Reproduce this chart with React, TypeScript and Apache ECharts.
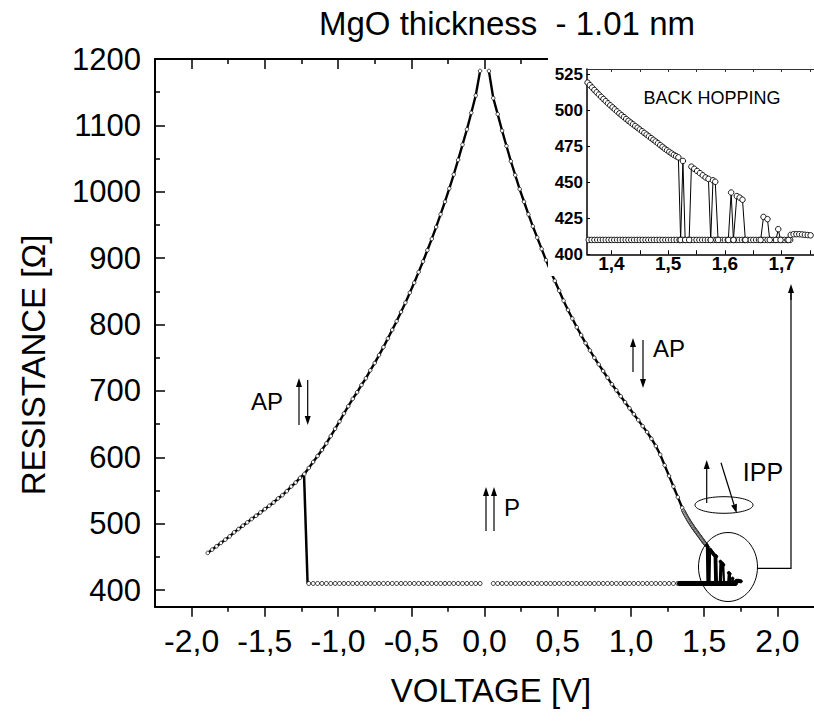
import React, { useEffect, useRef } from "react";
import * as echarts from "echarts";

// ---------- DATA ----------
// AP branch, negative bias
const leftV = [-1.89, -1.86, -1.83, -1.80, -1.77, -1.74, -1.71, -1.68, -1.65, -1.62, -1.59, -1.56, -1.53, -1.50,
  -1.47, -1.44, -1.41, -1.38, -1.35, -1.32, -1.29, -1.26, -1.23, -1.20, -1.17, -1.14, -1.11, -1.08, -1.05, -1.02,
  -0.99, -0.96, -0.93, -0.90, -0.87, -0.84, -0.81, -0.78, -0.75, -0.72, -0.69, -0.66, -0.63, -0.60, -0.57, -0.54,
  -0.51, -0.48, -0.45, -0.42, -0.39, -0.36, -0.33, -0.30, -0.27, -0.24, -0.21, -0.18, -0.15, -0.12, -0.09, -0.06, -0.03];
const leftR = [456, 461, 466, 471, 476, 481, 487, 492, 497, 502, 507, 512, 517, 522,
  527, 532, 538, 543, 549, 556, 562, 569, 575, 584, 593, 602, 611, 621, 632, 643,
  654, 666, 677, 688, 698, 709, 719, 731, 742, 754, 766, 779, 792, 805, 819, 833,
  848, 863, 879, 895, 912, 929, 947, 966, 985, 1005, 1026, 1048, 1071, 1094, 1119, 1145, 1182];

// AP -> P switching at negative bias
const jumpV = [-1.232, -1.208];
const jumpR = [572, 410];

// P state, negative bias
const baseLeftV = [-1.20, -1.17, -1.14, -1.11, -1.08, -1.05, -1.02, -0.99, -0.96, -0.93, -0.90, -0.87, -0.84, -0.81,
  -0.78, -0.75, -0.72, -0.69, -0.66, -0.63, -0.60, -0.57, -0.54, -0.51, -0.48, -0.45, -0.42, -0.39, -0.36, -0.33,
  -0.30, -0.27, -0.24, -0.21, -0.18, -0.15, -0.12, -0.09, -0.06, -0.03];
const baseLeftR = [410, 410, 410, 410, 410, 410, 410, 410, 410, 410, 410, 410, 410, 410,
  410, 410, 410, 410, 410, 410, 410, 410, 410, 410, 410, 410, 410, 410, 410, 410,
  410, 410, 410, 410, 410, 410, 410, 410, 410, 410];

// P state, positive bias (coarse part)
const baseRightV = [0.06, 0.09, 0.12, 0.15, 0.18, 0.21, 0.24, 0.27, 0.30, 0.33, 0.36, 0.39, 0.42, 0.45, 0.48,
  0.51, 0.54, 0.57, 0.60, 0.63, 0.66, 0.69, 0.72, 0.75, 0.78, 0.81, 0.84, 0.87, 0.90, 0.93, 0.96, 0.99,
  1.02, 1.05, 1.08, 1.11, 1.14, 1.17, 1.20, 1.23, 1.26, 1.29, 1.32];
const baseRightR = [410, 410, 410, 410, 410, 410, 410, 410, 410, 410, 410, 410, 410, 410, 410,
  410, 410, 410, 410, 410, 410, 410, 410, 410, 410, 410, 410, 410, 410, 410, 410, 410,
  410, 410, 410, 410, 410, 410, 410, 410, 410, 410, 410];

// AP branch, positive bias
const rightV = [0.03, 0.06, 0.09, 0.12, 0.15, 0.18, 0.21, 0.24, 0.27, 0.30, 0.33, 0.36, 0.39, 0.42, 0.45,
  0.48, 0.51, 0.54, 0.57, 0.60, 0.63, 0.66, 0.69, 0.72, 0.75, 0.78, 0.81, 0.84, 0.87, 0.90, 0.93, 0.96,
  0.99, 1.02, 1.05, 1.08, 1.11, 1.14, 1.17, 1.20, 1.23, 1.26, 1.29, 1.32, 1.35,
  1.358, 1.362, 1.366, 1.370, 1.374, 1.378, 1.382, 1.386, 1.390, 1.394, 1.398, 1.402, 1.406, 1.410, 1.414,
  1.418, 1.422, 1.426, 1.430, 1.434, 1.438, 1.442, 1.446, 1.450, 1.454, 1.458, 1.462, 1.466, 1.470, 1.474,
  1.478, 1.482, 1.486, 1.490, 1.494, 1.498, 1.502, 1.506, 1.510, 1.514];
const rightR = [1182, 1141, 1117, 1092, 1069, 1046, 1025, 1004, 985, 966, 948, 931, 914, 897, 881,
  866, 851, 836, 822, 809, 796, 784, 772, 761, 750, 740, 730, 720, 710, 701, 692, 683,
  674, 665, 656, 647, 638, 628, 617, 604, 588, 572, 556, 540, 524,
  519.5, 517.8, 516.1, 514.4, 512.8, 511.2, 509.6, 508.1, 506.6, 505.1, 503.7, 502.3, 500.9, 499.5, 498.1,
  496.8, 495.5, 494.2, 492.9, 491.7, 490.5, 489.3, 488.1, 486.9, 485.7, 484.5, 483.3, 482.1, 480.9, 479.7,
  478.5, 477.3, 476.0, 474.8, 473.5, 472.4, 471.3, 470.2, 469.2, 468.3];

// P state in the back-hopping region (dense sweep)
const pDenseV = [1.330, 1.335, 1.340, 1.345, 1.350, 1.355, 1.360, 1.365, 1.370, 1.375, 1.380, 1.385, 1.390,
  1.395, 1.400, 1.405, 1.410, 1.415, 1.420, 1.425, 1.430, 1.435, 1.440, 1.445, 1.450, 1.455, 1.460, 1.465,
  1.470, 1.475, 1.480, 1.485, 1.490, 1.495, 1.500, 1.505, 1.510, 1.515, 1.520, 1.525, 1.530, 1.535, 1.540,
  1.545, 1.550, 1.555, 1.560, 1.565, 1.570, 1.575, 1.580, 1.585, 1.590, 1.595, 1.600, 1.605, 1.610, 1.615,
  1.620, 1.625, 1.630, 1.635, 1.640, 1.645, 1.650, 1.655, 1.660, 1.665, 1.670, 1.675, 1.680, 1.685, 1.690,
  1.695, 1.700, 1.705, 1.710, 1.715];
const pDenseR = [410, 410, 410, 410, 410, 410, 410, 410, 410, 410, 410, 410, 410,
  410, 410, 410, 410, 410, 410, 410, 410, 410, 410, 410, 410, 410, 410, 410,
  410, 410, 410, 410, 410, 410, 410, 410, 410, 410, 410, 410, 410, 410, 410,
  410, 410, 410, 410, 410, 410, 410, 410, 410, 410, 410, 410, 410, 410, 410,
  410, 410, 410, 410, 410, 410, 410, 410, 410, 410, 410, 410, 410, 410, 410,
  410, 410, 410, 410, 410];

// back hopping (telegraph switching between AP and P)
const hopV = [1.518, 1.522, 1.526, 1.530, 1.537, 1.541, 1.546, 1.551, 1.556, 1.561, 1.566, 1.571, 1.575,
  1.579, 1.583, 1.588, 1.606, 1.611, 1.615, 1.621, 1.626, 1.631, 1.636, 1.663, 1.668, 1.675, 1.679, 1.690,
  1.694, 1.698, 1.712, 1.716, 1.721, 1.726, 1.731, 1.736, 1.741, 1.746, 1.751];
const hopR = [467.5, 410, 465, 410, 410, 461, 459.5, 458, 456.5, 455, 453.5, 452.5, 410,
  451.5, 450.5, 410, 410, 443, 410, 440.5, 439.5, 438, 410, 410, 426, 424.5, 410, 410,
  417.5, 410, 410, 413.5, 414, 414, 414, 413.8, 413.6, 413.4, 413.2];

// ticks
const xMajor = [-2, -1.5, -1, -0.5, 0, 0.5, 1, 1.5, 2];
const xMinor = [-1.75, -1.25, -0.75, -0.25, 0.25, 0.75, 1.25, 1.75];
const yMajor = [400, 500, 600, 700, 800, 900, 1000, 1100, 1200];
const yMinor = [450, 550, 650, 750, 850, 950, 1050, 1150];
const insetXLabels = [1.4, 1.5, 1.6, 1.7];
const insetXTicks = [1.4, 1.45, 1.5, 1.55, 1.6, 1.65, 1.7, 1.75];
const insetYLabels = [400, 425, 450, 475, 500, 525];

// ---------- STYLE ----------
const FONT = "'Liberation Sans', Arial, Helvetica, sans-serif";
const BLACK = "#000";

const zip = (xs: number[], ys: number[]) => xs.map((x, i) => [x, ys[i]]);
const fmt1 = (v: number) => v.toFixed(1).replace(".", ",");
const fmtInt = (v: number) => String(Math.round(v));

function arrow(x1: number, y1: number, x2: number, y2: number) {
  const head = 9, half = 3;
  const dx = x2 - x1, dy = y2 - y1;
  const L = Math.hypot(dx, dy);
  const ux = dx / L, uy = dy / L;
  const bx = x2 - ux * head, by = y2 - uy * head;
  const px = -uy, py = ux;
  return [
    { type: "line", z: 30, shape: { x1, y1, x2: bx, y2: by }, style: { stroke: BLACK, lineWidth: 1.2 } },
    { type: "polygon", z: 30, shape: { points: [[x2, y2], [bx + px * half, by + py * half], [bx - px * half, by - py * half]] }, style: { fill: BLACK } },
  ];
}

function txt(x: number, y: number, text: string, size: number, extra: any = {}) {
  return {
    type: "text", x, y, z: 30, ...extra,
    style: { text, font: `${extra.weight || "normal"} ${size}px ${FONT}`, fill: BLACK, align: "center", verticalAlign: "middle" },
  };
}

function mainX(position: string, ticks: number[], len: number, inside: boolean, showLine: boolean, showLabels: boolean) {
  return {
    gridIndex: 0, type: "value", min: -2.25, max: 2.25, position,
    axisLine: { show: showLine, onZero: false, lineStyle: { color: BLACK, width: 2 } },
    axisTick: { show: true, inside, length: len, customValues: ticks, lineStyle: { color: BLACK, width: 1.5 } },
    axisLabel: showLabels
      ? { show: true, customValues: ticks, formatter: fmt1, margin: 18, color: BLACK, fontSize: 32, fontFamily: FONT }
      : { show: false },
    splitLine: { show: false },
  };
}

function mainY(ticks: number[], len: number, showLine: boolean, showLabels: boolean) {
  return {
    gridIndex: 0, type: "value", min: 375, max: 1200, position: "left",
    axisLine: { show: showLine, onZero: false, lineStyle: { color: BLACK, width: 2 } },
    axisTick: { show: true, inside: true, length: len, customValues: ticks, lineStyle: { color: BLACK, width: 1.5 } },
    axisLabel: showLabels
      ? { show: true, customValues: ticks, formatter: fmtInt, margin: 14, color: BLACK, fontSize: 31, fontFamily: FONT }
      : { show: false },
    splitLine: { show: false },
  };
}

function lineSeries(name: string, xs: number[], ys: number[], xi: number, yi: number, opts: any) {
  return {
    type: "line", name, xAxisIndex: xi, yAxisIndex: yi, data: zip(xs, ys),
    symbol: opts.symbol === undefined ? "circle" : opts.symbol,
    symbolSize: opts.size || 4,
    showSymbol: opts.symbol !== "none",
    showAllSymbol: true,
    itemStyle: { color: opts.fill || "#fff", borderColor: BLACK, borderWidth: opts.bw === undefined ? 0.8 : opts.bw },
    lineStyle: { color: BLACK, width: opts.lw === undefined ? 1 : opts.lw },
    z: opts.z || 2,
    clip: true,
    silent: true,
    emphasis: { disabled: true },
  };
}

export default function App() {
  const ref = useRef<HTMLDivElement>(null);
  useEffect(() => {
    if (!ref.current) return;
    const chart = echarts.init(ref.current, null, { renderer: "svg" });
    const option: any = {
      animation: false,
      backgroundColor: "#fff",
      grid: [
        { left: 155, top: 59, width: 673, height: 547.7, show: false },
        { left: 587, top: 69, width: 236, height: 185.3, show: false },
      ],
      xAxis: [
        mainX("bottom", xMajor, 10, false, true, true),
        mainX("bottom", xMinor, 5, false, false, false),
        mainX("top", xMajor, 10, true, true, false),
        mainX("top", xMinor, 5, true, false, false),
        {
          gridIndex: 1, type: "value", min: 1.357, max: 1.757, position: "bottom", z: 12,
          axisLine: { show: true, onZero: false, lineStyle: { color: BLACK, width: 1.5 } },
          axisTick: { show: true, inside: true, length: 4, customValues: insetXTicks, lineStyle: { color: BLACK, width: 1 } },
          axisLabel: { show: true, customValues: insetXLabels, formatter: fmt1, margin: 0, color: BLACK, fontSize: 19, fontWeight: "bold", fontFamily: FONT },
          splitLine: { show: false },
        },
        {
          gridIndex: 1, type: "value", min: 1.357, max: 1.757, position: "top", z: 12,
          axisLine: { show: true, onZero: false, lineStyle: { color: "#333", width: 1 } },
          axisTick: { show: true, inside: true, length: 3, customValues: insetXTicks, lineStyle: { color: "#333", width: 1 } },
          axisLabel: { show: false },
          splitLine: { show: false },
        },
      ],
      yAxis: [
        mainY(yMajor, 10, true, true),
        mainY(yMinor, 5, false, false),
        {
          gridIndex: 1, type: "value", min: 400, max: 529, position: "left", z: 12,
          axisLine: { show: true, onZero: false, lineStyle: { color: BLACK, width: 1.5 } },
          axisTick: { show: true, inside: true, length: 3, customValues: insetYLabels, lineStyle: { color: BLACK, width: 1 } },
          axisLabel: { show: true, customValues: insetYLabels, formatter: fmtInt, margin: 4, color: BLACK, fontSize: 17, fontWeight: "bold", fontFamily: FONT },
          splitLine: { show: false },
        },
      ],
      series: [
        // main plot
        lineSeries("AP negative", leftV, leftR, 0, 0, { size: 3.6, lw: 2.4, bw: 0.7 }),
        lineSeries("switch", jumpV, jumpR, 0, 0, { symbol: "none", lw: 2.5 }),
        lineSeries("P negative", baseLeftV, baseLeftR, 0, 0, { size: 4, lw: 1 }),
        lineSeries("P positive", baseRightV, baseRightR, 0, 0, { size: 4, lw: 1 }),
        lineSeries("AP positive", rightV, rightR, 0, 0, { size: 3.6, lw: 2.4, bw: 0.7 }),
        lineSeries("P dense", pDenseV, pDenseR, 0, 0, { size: 4, lw: 1, fill: BLACK }),
        lineSeries("back hopping", hopV, hopR, 0, 0, { size: 3, lw: 2, fill: BLACK }),
        // inset
        lineSeries("AP positive inset", rightV, rightR, 4, 2, { size: 5.5, lw: 1, bw: 0.9, z: 14 }),
        lineSeries("P dense inset", pDenseV, pDenseR, 4, 2, { size: 5.5, lw: 1, bw: 0.9, z: 14 }),
        lineSeries("back hopping inset", hopV, hopR, 4, 2, { size: 5.5, lw: 1, bw: 0.9, z: 14 }),
      ],
      graphic: [
        // white backdrop of the inset
        { type: "rect", z: 10, shape: { x: 548, y: 45, width: 280, height: 231 }, style: { fill: "#fff" } },
        txt(507, 23, "MgO thickness  - 1.01 nm", 33),
        txt(491, 690, "VOLTAGE [V]", 33),
        txt(33, 365, "RESISTANCE [Ω]", 33, { rotation: Math.PI / 2 }),
        txt(712, 98, "BACK HOPPING", 18),
        txt(267, 401, "AP", 24),
        txt(669, 348, "AP", 24),
        txt(512, 507, "P", 24),
        txt(763, 472, "IPP", 25),
        ...arrow(299, 425, 299, 378),
        ...arrow(307.7, 380, 307.7, 425),
        ...arrow(633, 372, 633, 338),
        ...arrow(643, 340, 643, 388),
        ...arrow(486, 531, 486, 487),
        ...arrow(494, 531, 494, 487),
        ...arrow(706.7, 503, 706.7, 460),
        ...arrow(721, 462.7, 736.7, 513.3),
        { type: "ellipse", z: 30, shape: { cx: 724, cy: 505, rx: 29, ry: 8.3 }, style: { fill: "none", stroke: BLACK, lineWidth: 1 } },
        { type: "ellipse", z: 30, shape: { cx: 728, cy: 567, rx: 29.5, ry: 34.5 }, style: { fill: "none", stroke: BLACK, lineWidth: 1 } },
        { type: "polyline", z: 30, shape: { points: [[758, 568.3], [791, 568.3], [791, 292]] }, style: { stroke: BLACK, lineWidth: 1.2, fill: "none" } },
        ...arrow(791, 300, 791, 284),
      ],
    };
    chart.setOption(option);
    return () => chart.dispose();
  }, []);
  return (
    <div
      ref={ref}
      style={{ position: "absolute", left: 0, top: 0, width: 814, height: 721, background: "#fff" }}
    />
  );
}
